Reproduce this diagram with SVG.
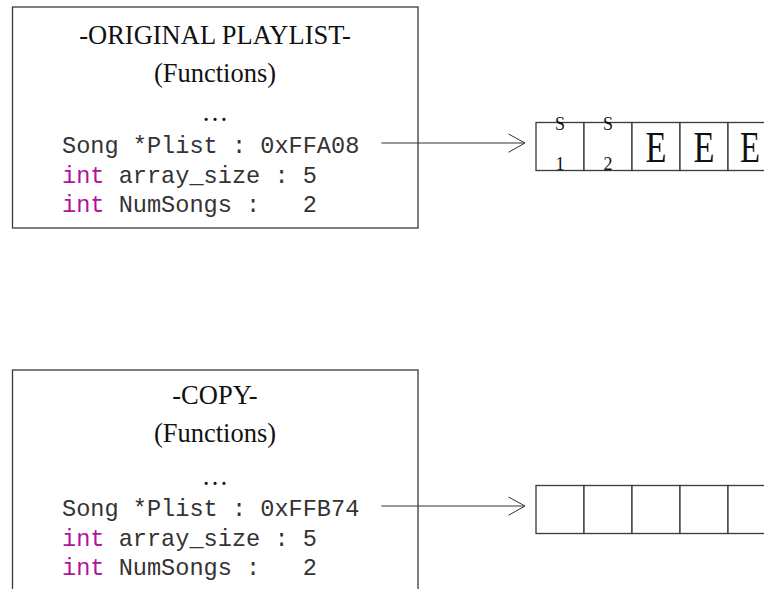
<svg xmlns="http://www.w3.org/2000/svg" width="764" height="589" viewBox="0 0 764 589">
  <style>
    .box { fill: #ffffff; stroke: #3a3a3a; stroke-width: 1.3; }
    .cell { fill: #ffffff; stroke: #3a3a3a; stroke-width: 1.3; }
    .title { font-family: "Liberation Serif", "Times New Roman", serif; font-size: 26.5px; fill: #111111; text-anchor: middle; }
    .code { font-family: "Liberation Mono", "Courier New", monospace; font-size: 23.6px; fill: #333333; white-space: pre; }
    .kw { fill: #b0149e; }
    .sub { font-family: "Liberation Serif", "Times New Roman", serif; fill: #111111; text-anchor: middle; }
    .big { font-family: "Liberation Serif", "Times New Roman", serif; font-size: 44px; fill: #111111; text-anchor: middle; }
    .link { fill: none; stroke: #333333; stroke-width: 1; }
  </style>

  <!-- original playlist object -->
  <g id="original">
    <rect class="box" x="12.5" y="7" width="405.5" height="221"/>
    <text class="title" x="215" y="44">-ORIGINAL PLAYLIST-</text>
    <text class="title" x="215" y="82">(Functions)</text>
    <text class="title" x="215" y="121">…</text>
    <text class="code" x="62" y="153">Song *Plist : 0xFFA08</text>
    <text class="code" x="62" y="183"><tspan class="kw">int</tspan> array_size : 5</text>
    <text class="code" x="62" y="212"><tspan class="kw">int</tspan> NumSongs :   2</text>
  </g>

  <!-- array owned by the original -->
  <g id="original-array">
    <rect class="cell" x="536" y="122.5" width="48" height="48"/>
    <rect class="cell" x="584" y="122.5" width="48" height="48"/>
    <rect class="cell" x="632" y="122.5" width="48" height="48"/>
    <rect class="cell" x="680" y="122.5" width="48" height="48"/>
    <rect class="cell" x="728" y="122.5" width="48" height="48"/>
    <text class="sub" x="560" y="129.5" font-size="18">S</text>
    <text class="sub" x="560" y="169.5" font-size="18">1</text>
    <text class="sub" x="608" y="129.5" font-size="18">S</text>
    <text class="sub" x="608" y="169.5" font-size="18">2</text>
    <text class="big" x="656" y="161.5" textLength="21" lengthAdjust="spacingAndGlyphs">E</text>
    <text class="big" x="704" y="161.5" textLength="21" lengthAdjust="spacingAndGlyphs">E</text>
    <text class="big" x="750" y="161.5" textLength="20" lengthAdjust="spacingAndGlyphs">E</text>
  </g>

  <!-- copied playlist object -->
  <g id="copy">
    <rect class="box" x="12.5" y="370" width="405.5" height="240"/>
    <text class="title" x="215" y="403.5">-COPY-</text>
    <text class="title" x="215" y="442">(Functions)</text>
    <text class="title" x="215" y="484.5">…</text>
    <text class="code" x="62" y="516">Song *Plist : 0xFFB74</text>
    <text class="code" x="62" y="546"><tspan class="kw">int</tspan> array_size : 5</text>
    <text class="code" x="62" y="575"><tspan class="kw">int</tspan> NumSongs :   2</text>
  </g>

  <!-- array owned by the copy -->
  <g id="copy-array">
    <rect class="cell" x="536" y="485.5" width="48" height="48"/>
    <rect class="cell" x="584" y="485.5" width="48" height="48"/>
    <rect class="cell" x="632" y="485.5" width="48" height="48"/>
    <rect class="cell" x="680" y="485.5" width="48" height="48"/>
    <rect class="cell" x="728" y="485.5" width="48" height="48"/>
  </g>

  <!-- pointer connectors -->
  <g id="connectors">
    <line class="link" x1="381.5" y1="143" x2="525" y2="143"/>
    <polyline class="link" points="508.5,134 525,143 508.5,152.3"/>
    <line class="link" x1="381.5" y1="506" x2="525" y2="506"/>
    <polyline class="link" points="508.5,497 525,506 508.5,515.3"/>
  </g>
</svg>
